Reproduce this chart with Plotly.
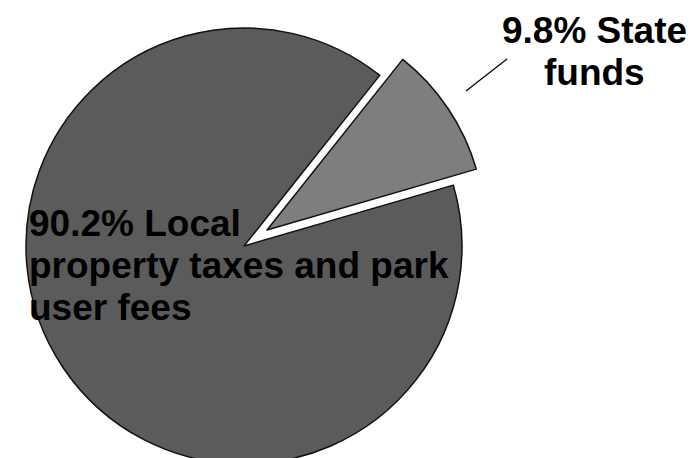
import plotly.graph_objects as go

# Data
categories = ["State funds", "Local property taxes and park user fees"]
values = [9.8, 90.2]
state_label_lines = ["9.8% State", "funds"]
local_label_lines = ["90.2% Local", "property taxes and park", "user fees"]

W, H = 694, 458
OFF = 8                 # page body margin that shifts the figure
R = 218                 # pie radius in px
CX, CY = 244, 246       # pie centre in page px
PULL_DX, PULL_DY = 23, -16  # offset of the exploded slice
ROT = 38.5

main_color = "#5b5b5b"
state_color = "#7e7e7e"
clear = "rgba(0,0,0,0)"


def px(x):
    return (x - OFF) / W


def py(y):
    return 1 - (y - OFF) / H


def domain(cx, cy, r):
    x0, x1 = px(cx - r), px(cx + r)
    y0, y1 = py(cy + r), py(cy - r)
    return dict(x=[x0, x1], y=[y0, y1])


fig = go.Figure()

# main (non-exploded) slice
fig.add_trace(go.Pie(
    labels=categories, values=values, sort=False, direction="clockwise",
    rotation=ROT, textinfo="none", hoverinfo="label+percent", showlegend=False,
    marker=dict(colors=[clear, main_color], line=dict(color=[clear, "#111111"], width=[0, 1.5])),
    domain=domain(CX, CY, R),
))

# exploded slice
fig.add_trace(go.Pie(
    labels=categories, values=values, sort=False, direction="clockwise",
    rotation=ROT, textinfo="none", hoverinfo="label+percent", showlegend=False,
    marker=dict(colors=[state_color, clear], line=dict(color=["#111111", clear], width=[1.5, 0])),
    domain=domain(CX + PULL_DX, CY + PULL_DY, R),
))

FS = 37
font = dict(family="Liberation Sans, Arial, sans-serif", size=FS, color="#000000", weight="bold")
BASE_OFF = 36  # baseline offset from annotation top (px)

for i, line in enumerate(local_label_lines):
    base = 237 + 42 * i
    fig.add_annotation(
        text=line, xref="paper", yref="paper",
        x=px(27), y=py(base - BASE_OFF), xanchor="left", yanchor="top", align="left",
        showarrow=False, font=font,
    )

for i, line in enumerate(state_label_lines):
    base = 44 + 42 * i
    fig.add_annotation(
        text=line, xref="paper", yref="paper",
        x=px(594), y=py(base - BASE_OFF), xanchor="center", yanchor="top", align="center",
        showarrow=False, font=font,
    )

fig.add_shape(type="line", xref="paper", yref="paper",
              x0=px(466), y0=py(91), x1=px(507), y1=py(59),
              line=dict(color="#000000", width=1.2))

fig.update_layout(
    width=W, height=H, margin=dict(l=0, r=0, t=0, b=0),
    paper_bgcolor="white", plot_bgcolor="white",
)

fig.write_html("out.html")
